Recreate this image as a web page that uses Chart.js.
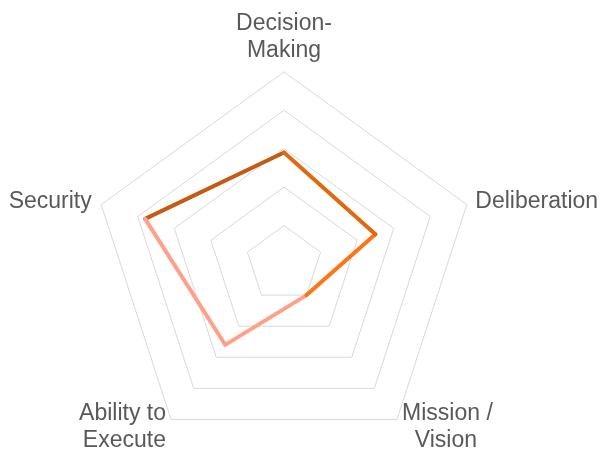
<!DOCTYPE html>
<html>
<head>
<meta charset="utf-8">
<script src="https://cdn.jsdelivr.net/npm/chart.js@4.4.1/dist/chart.umd.min.js"></script>
<style>
  html, body { margin: 0; padding: 0; background: #fff; overflow: hidden; }
  body { width: 602px; height: 449px; position: relative; }
  /* canvas is a bit larger than the window so the radar gets the same size as the original */
  #wrap { position: absolute; left: -116px; top: -20px; width: 800px; height: 508px; }
</style>
</head>
<body>
<div id="wrap"><canvas id="chart"></canvas></div>
<script>
const categories = [["Decision-", "Making"], "Deliberation", ["Mission /", "Vision"], ["Ability to", "Execute"], "Security"]
const scores = [2.9, 2.5, 1.0, 2.6, 3.8]
const scaleMax = 5
const scaleStep = 1

// the outline changes colour from edge to edge, so each run of edges is its own dataset
const edgeRuns = [
     { points: [0, 1], color: "#E0690F" },
     { points: [1, 2], color: "#FF7414" },
     { points: [2, 3, 4], color: "#FFA088" },
     { points: [4, 0], color: "#C55A11" }
]

const labelFont = "'Liberation Sans', Arial, sans-serif"

// nudge the bottom labels so the lines sit like the original
const shiftLabel = function (label, index) {
     if (index === 2) return ["   " + label[0], "     " + label[1]]
     if (index === 3) return [label[0] + "   ", label[1] + "   "]
     return label
}

const datasets = edgeRuns.map(run => ({
     label: "Score",
     data: scores.map((v, i) => run.points.includes(i) ? v : null),
     fill: false,
     spanGaps: false,
     borderWidth: 4,
     borderColor: run.color,
     borderJoinStyle: "miter",
     borderCapStyle: "round",
     pointRadius: 0,
     pointHoverRadius: 0,
     tension: 0
}))

const canvas = document.getElementById("chart")
const radarChart = new Chart(canvas, {
     type: "radar",
     data: {
          labels: categories,
          datasets: datasets
     },
     options: {
          responsive: true,
          maintainAspectRatio: false,
          animation: false,
          plugins: {
               legend: { display: false },
               tooltip: { enabled: false }
          },
          scales: {
               r: {
                    min: 0,
                    max: scaleMax,
                    ticks: { display: false, stepSize: scaleStep },
                    angleLines: { display: false },
                    grid: { color: "#d9d9d9", lineWidth: 1 },
                    pointLabels: {
                         color: "#595959",
                         padding: ctx => [8, 9, -24, -24, 10][ctx.index],
                         font: ctx => ({
                              family: labelFont,
                              size: 23,
                              lineHeight: (ctx.index === 1 || ctx.index === 4) ? 0.02 : 1.17
                         }),
                         callback: shiftLabel
                    }
               }
          }
     }
})
</script>
</body>
</html>
